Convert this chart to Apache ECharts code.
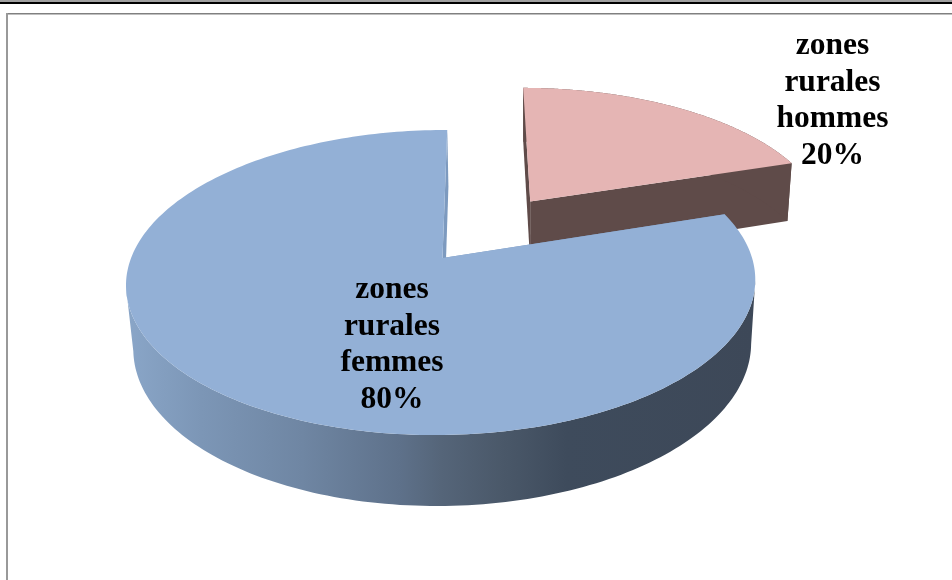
<!DOCTYPE html>
<html>
<head>
<meta charset="utf-8">
<style>html,body{margin:0;padding:0;background:#fff}#c{width:952px;height:580px}</style>
<script src="https://cdn.jsdelivr.net/npm/echarts@6/dist/echarts.min.js"></script>
</head>
<body>
<div id="c"></div>
<script>
const categories = ['zones\nrurales\nhommes', 'zones\nrurales\nfemmes'];
const shares = [20, 80];

const cam = {ax: 442.5, ay: 258, R: 310.5, k: 148.6, p: 0.1607, q: 0.003, r: 0.018, e: 5.5, c: 64, g: 1.5};
const explode = [0.5, 0];
const topColors = ['#E5B5B4', '#93B0D6'];
const sideColors = ['#5F4B49', '#7D9ABF'];
const labelPos = [[832.5, 101], [392, 345]];
const wallGrad = {
  type: 'linear', x: 0, y: 0, x2: 1, y2: 0,
  colorStops: [
    {offset: 0, color: '#8AA6C8'},
    {offset: 0.12, color: '#7C96B6'},
    {offset: 0.28, color: '#6F86A3'},
    {offset: 0.435, color: '#5E718A'},
    {offset: 0.5, color: '#556579'},
    {offset: 0.6, color: '#4A5869'},
    {offset: 0.7, color: '#3E4B5C'},
    {offset: 1, color: '#3D4858'}
  ]
};

function project(u, v, z) {
  const w = 1 + cam.p * v + cam.q * u + cam.r * z;
  return [cam.ax + (cam.R * u + cam.e * v + cam.g * z) / w, cam.ay - (cam.k * v - cam.c * z) / w];
}
const total = shares.reduce((a, b) => a + b, 0);

function renderItem(params, api) {
  const i = params.dataIndex;
  let before = 0;
  for (let j = 0; j < i; j++) before += shares[j];
  const a0 = before / total * 2 * Math.PI;
  const a1 = (before + api.value(0)) / total * 2 * Math.PI;
  const mid = (a0 + a1) / 2;
  const ou = explode[i] * Math.sin(mid), ov = explode[i] * Math.cos(mid);
  const rim = z => {
    const pts = [];
    const n = 240;
    for (let s = 0; s <= n; s++) {
      const a = a0 + (a1 - a0) * s / n;
      pts.push(project(ou + Math.sin(a), ov + Math.cos(a), z));
    }
    return pts;
  };
  const top = rim(0), low = rim(1);
  const c0 = project(ou, ov, 0), c1 = project(ou, ov, 1);
  const poly = (points, fill) => ({
    type: 'polygon', shape: {points},
    style: {fill, stroke: null}
  });
  // the outer wall is the visible run of the rim, between its horizontal extremes
  let iR = 0, iL = 0;
  top.forEach((pt, s) => {
    if (pt[0] > top[iR][0]) iR = s;
    if (pt[0] < top[iL][0]) iL = s;
  });
  const from = Math.min(iR, iL), to = Math.max(iR, iL);
  const wall = i === 1
    ? top.slice(from, to + 1).concat(low.slice(from, to + 1).reverse())
    : top.concat(low.slice().reverse());
  const children = [
    poly([c0, top[0], low[0], c1], sideColors[i]),
    poly([c0, top[top.length - 1], low[low.length - 1], c1], sideColors[i]),
    poly(wall, i === 1 ? wallGrad : sideColors[i]),
    poly([c0].concat(top), topColors[i]),
    {
      type: 'text',
      style: {
        x: labelPos[i][0], y: labelPos[i][1],
        text: categories[i] + '\n' + api.value(0) + '%',
        font: 'bold 31.5px "Liberation Serif"',
        lineHeight: 36.5,
        fill: '#000',
        align: 'center', verticalAlign: 'middle'
      }
    }
  ];
  return {type: 'group', children};
}

const chart = echarts.init(document.getElementById('c'), null, {renderer: 'canvas'});
chart.setOption({
  animation: false,
  backgroundColor: '#fff',
  graphic: [
    {type: 'rect', shape: {x: 0, y: 0, width: 952, height: 2}, style: {fill: '#A0A0A0'}},
    {type: 'rect', shape: {x: 0, y: 2, width: 952, height: 2}, style: {fill: '#000'}},
    {type: 'rect', shape: {x: 6, y: 13, width: 946, height: 1.5}, style: {fill: '#808080'}},
    {type: 'rect', shape: {x: 6, y: 13, width: 2, height: 567}, style: {fill: '#999'}}
  ],
  series: [{
    type: 'custom',
    coordinateSystem: 'none',
    silent: true,
    clip: false,
    renderItem,
    data: shares.map((v, i) => ({value: [v], name: categories[i]}))
  }]
});
</script>
</body>
</html>
